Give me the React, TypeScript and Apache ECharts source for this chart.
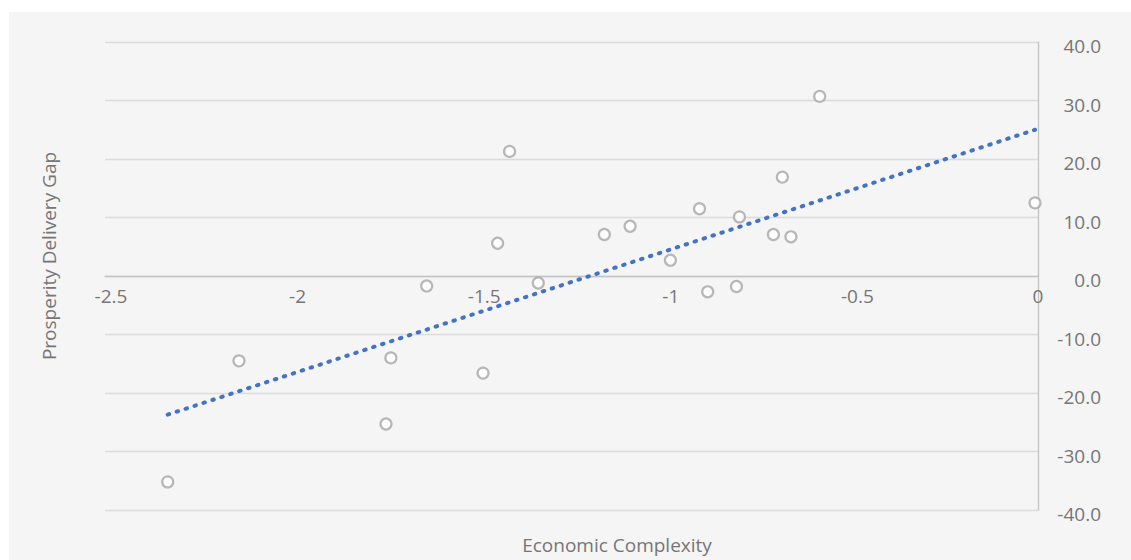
import React, { useEffect, useRef } from "react";
import * as echarts from "echarts";

// Economic Complexity (x) for each economy
const complexity = [
  -2.332, -2.141, -1.747, -1.734, -1.638, -1.487, -1.448, -1.416, -1.339, -1.162, -1.093,
  -0.985, -0.907, -0.885, -0.808, -0.8, -0.709, -0.685, -0.662, -0.585, -0.008,
];
// Prosperity Delivery Gap (y) for each economy
const gap = [
  -35.2, -14.5, -25.3, -14.0, -1.7, -16.6, 5.6, 21.3, -1.2, 7.1, 8.5,
  2.7, 11.5, -2.7, -1.8, 10.1, 7.1, 16.9, 6.7, 30.7, 12.5,
];
// Linear trendline end points
const trendX = [-2.332, -0.008];
const trendY = [-23.7, 25.0];

const xTitle = "Economic Complexity";
const yTitle = "Prosperity Delivery Gap";

const FONT = "'Open Sans', 'Noto Sans', sans-serif";
const TEXT = "#767676";
const FS = 19;

const GRID_TOP = 42;
const GRID_H = 468;

export default function App() {
  const ref = useRef<HTMLDivElement>(null);
  useEffect(() => {
    if (!ref.current) return;
    const chart = echarts.init(ref.current, undefined, { renderer: "svg" });
    const points = complexity.map((x, i) => [x, gap[i]]);
    const trend = trendX.map((x, i) => [x, trendY[i]]);
    chart.setOption({
      animation: false,
      backgroundColor: "transparent",
      textStyle: { fontFamily: FONT },
      grid: { left: 105, top: GRID_TOP, width: 933, height: GRID_H },
      xAxis: {
        type: "value",
        min: -2.5,
        max: 0,
        interval: 0.5,
        position: "bottom",
        offset: -GRID_H / 2,
        axisLine: { show: true, onZero: false, lineStyle: { color: "#c4c4c4", width: 1.3 } },
        axisTick: { show: false },
        splitLine: { show: false },
        axisLabel: {
          color: TEXT,
          fontSize: FS,
          fontFamily: FONT,
          margin: 10,
          formatter: (v: number) => (v < 0 ? `{neg|${v}}` : `${v}`),
          rich: {
            neg: { color: TEXT, fontSize: FS, fontFamily: FONT, padding: [0, 0, 0, 12] },
          },
        },
      },
      yAxis: {
        type: "value",
        position: "right",
        min: -40,
        max: 40,
        interval: 10,
        axisLine: { show: true, onZero: false, lineStyle: { color: "#c4c4c4", width: 1.3 } },
        axisTick: { show: false },
        splitLine: { show: true, lineStyle: { color: "#dcdcdc", width: 1.3 } },
        axisLabel: {
          color: TEXT,
          fontSize: FS,
          fontFamily: FONT,
          align: "right",
          verticalAlign: "top",
          lineHeight: 8,
          margin: 63,
          formatter: (v: number) => v.toFixed(1),
        },
      },
      graphic: [
        {
          type: "text",
          x: 617,
          y: 545,
          style: {
            text: xTitle,
            fill: TEXT,
            fontSize: FS,
            fontFamily: FONT,
            align: "center",
            verticalAlign: "middle",
          },
        },
        {
          type: "text",
          x: 49,
          y: 256,
          rotation: Math.PI / 2,
          style: {
            text: yTitle,
            fill: TEXT,
            fontSize: FS,
            fontFamily: FONT,
            align: "center",
            verticalAlign: "middle",
          },
        },
      ],
      series: [
        {
          type: "line",
          data: trend,
          showSymbol: false,
          symbol: "none",
          z: 2,
          lineStyle: { color: "#4472c4", width: 4, type: [1.5, 7.9], cap: "round" },
        },
        {
          type: "scatter",
          data: points,
          symbol: "circle",
          symbolSize: 11,
          z: 3,
          itemStyle: { color: "#ffffff", borderColor: "#a6a6a6", borderWidth: 2.2 },
        },
      ],
    });
    return () => chart.dispose();
  }, []);

  return (
    <div style={{ position: "fixed", left: 0, top: 0, width: 1131, height: 560, background: "#ffffff" }}>
      <div style={{ position: "absolute", left: 9, top: 12, right: 0, bottom: 0, background: "#f5f5f5" }} />
      <div ref={ref} style={{ position: "absolute", left: 0, top: 0, width: 1131, height: 560 }} />
    </div>
  );
}
